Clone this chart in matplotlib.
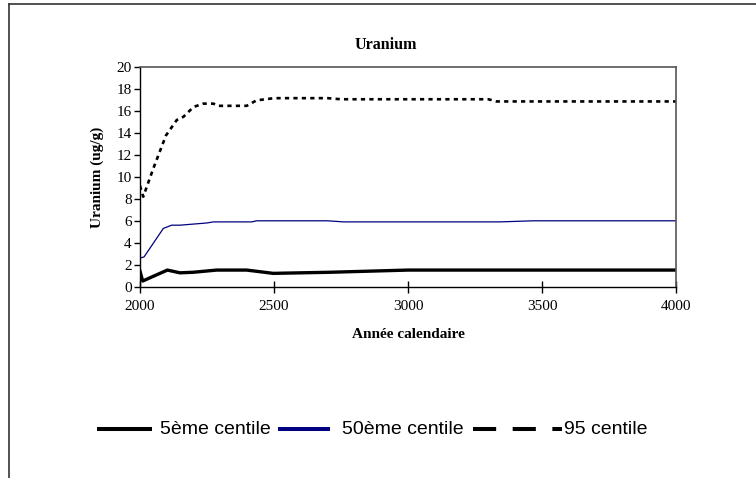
import matplotlib
matplotlib.use("Agg")
import matplotlib.pyplot as plt
from matplotlib.lines import Line2D

# ---- data ----
years5 = [2000, 2010, 2102, 2149, 2199, 2286, 2398, 2497, 2709, 3000, 4000]
p5 = [1.4, 0.5, 1.5, 1.25, 1.3, 1.5, 1.5, 1.2, 1.3, 1.5, 1.5]

years50 = [2000, 2015, 2087, 2118, 2149, 2249, 2274, 2417, 2435, 2700, 2760, 3343, 3467, 4000]
p50 = [2.6, 2.7, 5.3, 5.6, 5.6, 5.8, 5.9, 5.9, 6.0, 6.0, 5.9, 5.9, 6.0, 6.0]

years95 = [2000, 2012, 2050, 2097, 2137, 2162, 2200, 2236, 2274, 2290, 2398, 2435,
           2500, 2700, 2750, 3300, 3330, 4000]
p95 = [9.2, 8.2, 10.8, 13.8, 15.2, 15.5, 16.4, 16.7, 16.7, 16.5, 16.5, 17.0,
       17.2, 17.2, 17.1, 17.1, 16.9, 16.9]

series_names = ["5ème centile", "50ème centile", "95 centile"]
xticks = [2000, 2500, 3000, 3500, 4000]
yticks = list(range(0, 21, 2))

title = "Uranium"
xlabel = "Année calendaire"
ylabel = "Uranium (ug/g)"

# ---- figure ----
W, H = 756, 478
fig = plt.figure(figsize=(W / 100, H / 100), dpi=100)
serif = "Liberation Serif"
sans = "Liberation Sans"

ax = fig.add_axes([140 / W, 1 - 286.5 / H, (676 - 140) / W, (286.5 - 67.5) / H])

ax.plot(years5, p5, color="black", lw=2.4, solid_joinstyle="round")
ax.plot(years50, p50, color="#000080", lw=0.9)
ax.plot(years95, p95, color="black", lw=1.9, linestyle=(0, (1.6, 1.6)))

ax.set_xlim(2000, 4000)
ax.set_ylim(0, 20)
ax.set_xticks(xticks)
ax.set_yticks(yticks)
ax.tick_params(axis="x", direction="inout", length=8, width=1, pad=6,
               labelsize=11)
ax.tick_params(axis="y", direction="out", length=4, width=1, pad=2,
               labelsize=11)
for lab in ax.get_xticklabels() + ax.get_yticklabels():
    lab.set_fontfamily(serif)

for s in ["left", "bottom"]:
    ax.spines[s].set_color("black")
    ax.spines[s].set_linewidth(1.0)
for s in ["top", "right"]:
    ax.spines[s].set_color("#555555")
    ax.spines[s].set_linewidth(1.2)

fig.text(386 / W, 1 - 45 / H, title, ha="center", va="center",
         fontsize=11.5, fontweight="bold", family=serif)
fig.text(408 / W, 1 - 334 / H, xlabel, ha="center", va="center",
         fontsize=11, fontweight="bold", family=serif)
fig.text(97 / W, 1 - 177 / H, ylabel, ha="center", va="center",
         rotation=90, fontsize=11, fontweight="bold", family=serif)

# figure border (top and left visible)
fig.add_artist(Line2D([9 / W, 1], [1 - 4 / H, 1 - 4 / H], transform=fig.transFigure,
                      color="#333333", lw=1.2))
fig.add_artist(Line2D([9 / W, 9 / W], [0, 1 - 4 / H], transform=fig.transFigure,
                      color="#333333", lw=1.2))

# legend drawn manually (Excel style: unequal handle lengths)
ly = 1 - 429 / H
leg_entries = [
    (97, 152, dict(color="black", lw=2.9, solid_capstyle="butt"), 160),
    (278, 330, dict(color="#000080", lw=2.9, solid_capstyle="butt"), 342),
    (473, 562, dict(color="black", lw=2.9, linestyle=(0, (5.75, 4.1)),
                    dash_capstyle="butt"), 564),
]
for (x0, x1, style, tx), name in zip(leg_entries, series_names):
    fig.add_artist(Line2D([x0 / W, x1 / W], [ly, ly], transform=fig.transFigure,
                          **style))
    fig.text(tx / W, ly, name, ha="left", va="center", fontsize=14,
             family=sans)

fig.savefig("out.png", dpi=100)
